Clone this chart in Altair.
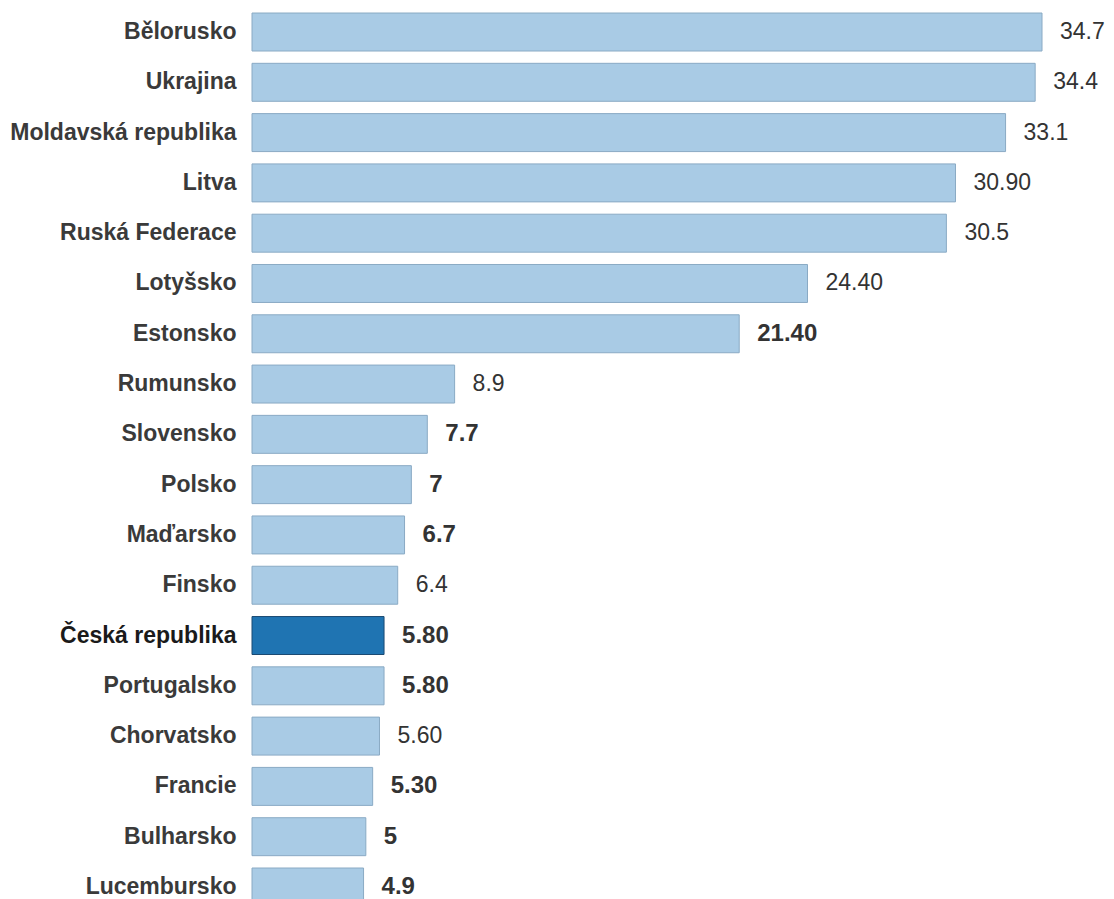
import altair as alt
import pandas as pd

countries = ["Bělorusko", "Ukrajina", "Moldavská republika", "Litva", "Ruská Federace",
             "Lotyšsko", "Estonsko", "Rumunsko", "Slovensko", "Polsko", "Maďarsko",
             "Finsko", "Česká republika", "Portugalsko", "Chorvatsko", "Francie",
             "Bulharsko", "Lucembursko"]
values = [34.7, 34.4, 33.1, 30.90, 30.5, 24.40, 21.40, 8.9, 7.7, 7, 6.7, 6.4,
          5.80, 5.80, 5.60, 5.30, 5, 4.9]
value_labels = ["34.7", "34.4", "33.1", "30.90", "30.5", "24.40", "21.40", "8.9",
                "7.7", "7", "6.7", "6.4", "5.80", "5.80", "5.60", "5.30", "5", "4.9"]
bold_flags = [False, False, False, False, False, False, True, False, True, True,
              True, False, True, True, False, True, True, True]
highlight_country = "Česká republika"

df = pd.DataFrame({
    "country": countries,
    "value": values,
    "label": value_labels,
    "bold": bold_flags,
    "highlight": [c == highlight_country for c in countries],
})

FONT = "Liberation Sans, Arial, sans-serif"

y = alt.Y(
    "country:N",
    sort=countries,
    scale=alt.Scale(range=[0, 903], paddingInner=0.245, paddingOuter=0.1),
    axis=alt.Axis(
        title=None, domain=False, ticks=False, grid=False,
        labelPadding=16, labelFont=FONT, labelFontSize=23,
        labelFontWeight="bold", labelLimit=400,
        labelColor=alt.expr("datum.value == 'Česká republika' ? '#1a1a1a' : '#3a3a3a'"),
    ),
)
x = alt.X("value:Q", scale=alt.Scale(domain=[0, 34.7], nice=False, zero=True), axis=None)

base = alt.Chart(df)

bars = base.mark_bar(strokeWidth=1).encode(
    x=x, y=y,
    color=alt.condition("datum.highlight", alt.value("#1f74b2"), alt.value("#a9cbe5")),
    stroke=alt.condition("datum.highlight", alt.value("#1b4a72"), alt.value("#8aaac4")),
)

text_regular = base.transform_filter("!datum.bold").mark_text(
    align="left", baseline="middle", dx=18, font=FONT, fontSize=23, color="#333333"
).encode(x=x, y=y, text="label:N")

text_bold = base.transform_filter("datum.bold").mark_text(
    align="left", baseline="middle", dx=18, font=FONT, fontSize=24,
    fontWeight="bold", color="#333333"
).encode(x=x, y=y, text="label:N")

chart = alt.layer(bars, text_regular, text_bold).properties(
    width=790, height=891,
    autosize=alt.AutoSizeParams(type="none"),
    padding={"left": 244, "top": 0, "right": 64, "bottom": 0},
).configure(background="white", view=alt.ViewConfig(strokeWidth=0))

chart.save("out.html", embed_options={"renderer": "svg", "actions": False})
